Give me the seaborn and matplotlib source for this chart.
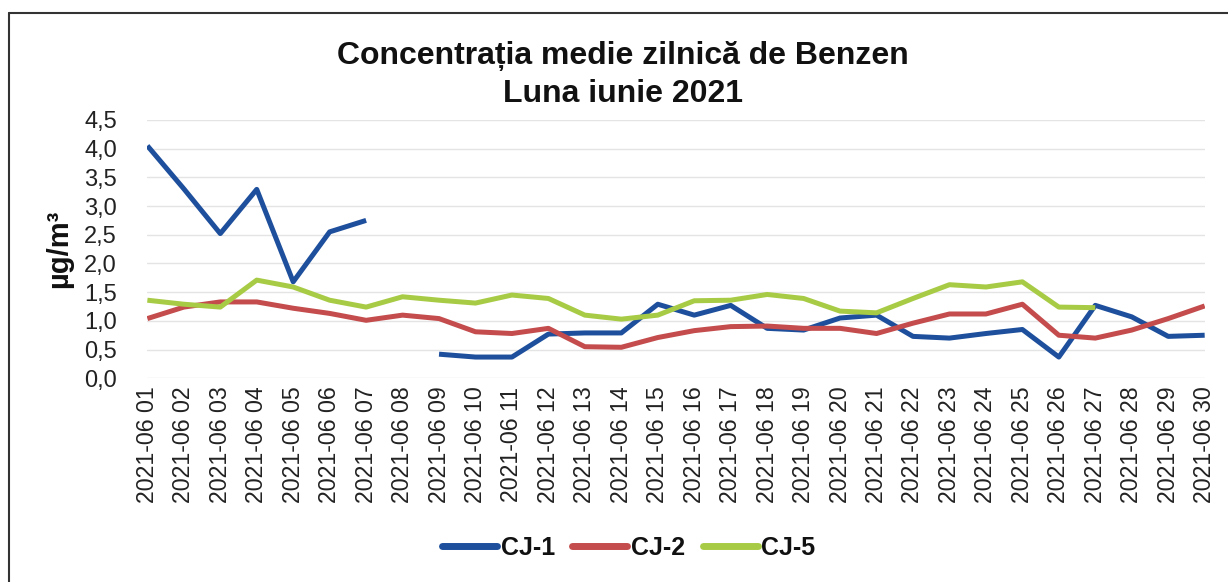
import numpy as np
import pandas as pd
import matplotlib
matplotlib.use("Agg")
import matplotlib.pyplot as plt
from matplotlib.lines import Line2D
import seaborn as sns

dates = [f"2021-06 {d:02d}" for d in range(1, 31)]

cj1 = [4.05, 3.30, 2.52, 3.29, 1.68, 2.55, 2.75, np.nan, 0.42, 0.37,
       0.37, 0.77, 0.79, 0.79, 1.29, 1.10, 1.27, 0.87, 0.84, 1.05,
       1.10, 0.73, 0.70, 0.78, 0.85, 0.37, 1.27, 1.07, 0.73, 0.75]
cj2 = [1.04, 1.24, 1.33, 1.33, 1.22, 1.13, 1.01, 1.10, 1.04, 0.81,
       0.78, 0.87, 0.55, 0.54, 0.71, 0.83, 0.90, 0.91, 0.87, 0.87,
       0.78, 0.96, 1.12, 1.12, 1.29, 0.75, 0.70, 0.84, 1.04, 1.26]
cj5 = [1.36, 1.29, 1.24, 1.71, 1.59, 1.36, 1.24, 1.42, 1.36, 1.31,
       1.45, 1.39, 1.10, 1.03, 1.10, 1.35, 1.36, 1.46, 1.39, 1.17,
       1.14, 1.39, 1.63, 1.59, 1.68, 1.24, 1.23, np.nan, np.nan, np.nan]

series_names = ["CJ-1", "CJ-2", "CJ-5"]
colors = ["#1d4f9c", "#c44c4c", "#a8cb45"]

yticks = [0.0, 0.5, 1.0, 1.5, 2.0, 2.5, 3.0, 3.5, 4.0, 4.5]
ytick_labels = ["0,0", "0,5", "1,0", "1,5", "2,0", "2,5", "3,0", "3,5", "4,0", "4,5"]

df = pd.DataFrame({"date": dates, "CJ-1": cj1, "CJ-2": cj2, "CJ-5": cj5})
df["idx"] = np.arange(len(dates))
long = df.melt(id_vars=["date", "idx"], var_name="station", value_name="value")
# segment id so gaps (missing days) are not bridged
long["seg"] = long.groupby("station")["value"].transform(lambda v: v.isna().cumsum())
long = long.dropna(subset=["value"])

sns.set_theme(style="white")
plt.rcParams["font.family"] = ["Liberation Sans", "DejaVu Sans"]
plt.rcParams["text.color"] = "#111111"
plt.rcParams["xtick.color"] = "#222222"
plt.rcParams["ytick.color"] = "#222222"
plt.rcParams["axes.labelcolor"] = "#111111"

fig = plt.figure(figsize=(12.28, 5.82), dpi=100)
ax = fig.add_axes([0.120, 0.350, 0.861, 0.444])

for name, col in zip(series_names, colors):
    sub = long[long["station"] == name]
    sns.lineplot(data=sub, x="idx", y="value", units="seg", estimator=None,
                 ax=ax, color=col, lw=3.6, legend=False, solid_capstyle="butt")

ax.set_xlim(0, len(dates) - 1)
ax.set_ylim(0, 4.5)
ax.set_yticks(yticks)
ax.set_yticklabels(ytick_labels, fontsize=17)
ax.set_xticks(np.arange(len(dates)))
ax.set_xticklabels(dates, rotation=90, fontsize=16.7)
ax.tick_params(axis="y", length=0, pad=22)
ax.tick_params(axis="x", length=0, pad=6)
ax.set_xlabel("")
ax.set_ylabel("µg/m³", fontsize=21, fontweight="bold", labelpad=8)
ax.grid(axis="y", color="#e4e4e4", lw=1.0)
ax.grid(axis="x", visible=False)
for s in ax.spines.values():
    s.set_visible(False)

fig.suptitle("Concentrația medie zilnică de Benzen\nLuna iunie 2021",
             fontsize=23, fontweight="bold", y=0.93, x=0.507, linespacing=1.35)

handles = [Line2D([0], [0], color=c, lw=5) for c in colors]
leg = fig.legend(handles, series_names, loc="center", bbox_to_anchor=(0.512, 0.058),
                 ncol=3, frameon=False, handlelength=2.2, handletextpad=0.15,
                 columnspacing=0.7, prop={"size": 18, "weight": "bold"})

# outer chart border
fig.add_artist(Line2D([0.007, 0.007], [0.0, 0.977], color="#333333", lw=1.5,
                      transform=fig.transFigure))
fig.add_artist(Line2D([0.007, 1.0], [0.977, 0.977], color="#333333", lw=1.5,
                      transform=fig.transFigure))

fig.savefig("out.png", dpi=100, facecolor="white")
